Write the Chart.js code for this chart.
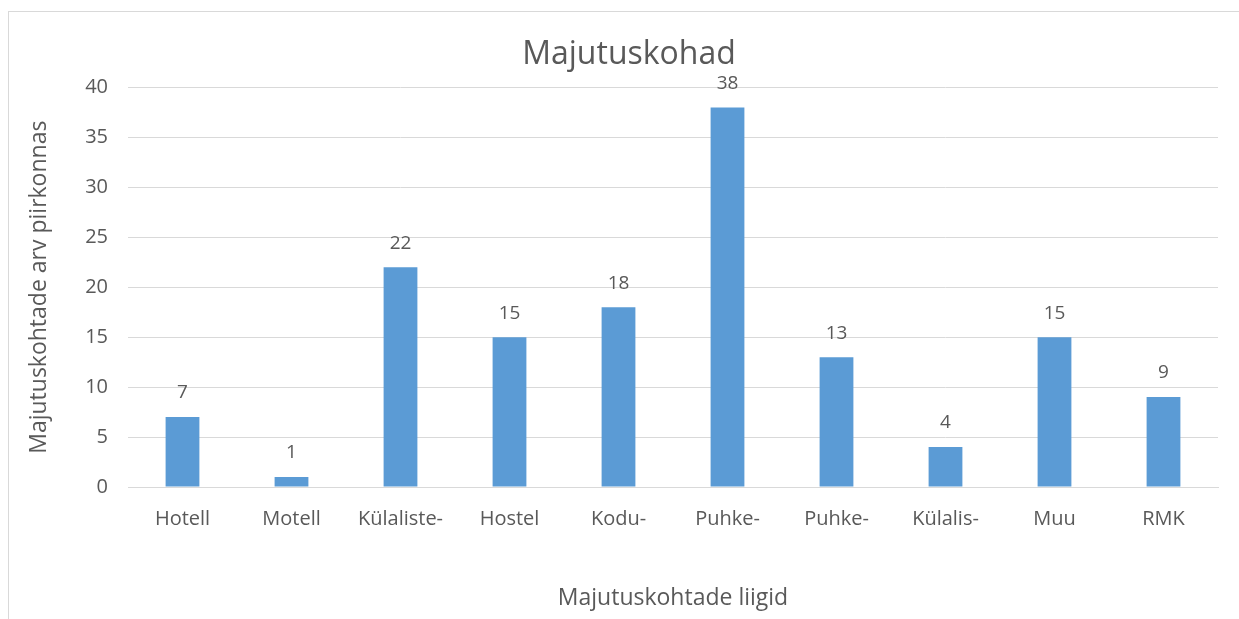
<!DOCTYPE html>
<html>
<head>
<meta charset="utf-8">
<script src="https://cdn.jsdelivr.net/npm/chart.js@4/dist/chart.umd.min.js"></script>
<style>
  html, body { margin: 0; padding: 0; background: #fff; overflow: hidden; }
  #frame { position: absolute; left: 8px; top: 11px; width: 1260px; height: 640px; border: 1px solid #d9d9d9; }
  #wrap { position: absolute; left: 0; top: 0; width: 1239px; height: 619px; }
</style>
</head>
<body>
<div id="frame"></div>
<div id="wrap"><canvas id="chart"></canvas></div>
<script>
// Chart data
const categories = ['Hotell', 'Motell', 'Külaliste-', 'Hostel', 'Kodu-', 'Puhke-', 'Puhke-', 'Külalis-', 'Muu', 'RMK'];
const counts = [7, 1, 22, 15, 18, 38, 13, 4, 15, 9];
const yTicks = [0, 5, 10, 15, 20, 25, 30, 35, 40];

const textColor = '#595959';
const fontFamily = '"Open Sans", "DejaVu Sans", sans-serif';

// Value labels above each bar
const barLabels = {
  id: 'barLabels',
  afterDatasetsDraw(chart) {
    const ctx = chart.ctx;
    const meta = chart.getDatasetMeta(0);
    ctx.save();
    ctx.fillStyle = textColor;
    ctx.font = '19px ' + fontFamily;
    ctx.textAlign = 'center';
    ctx.textBaseline = 'middle';
    meta.data.forEach((bar, i) => {
      ctx.fillText(String(counts[i]), bar.x, bar.y - 24);
    });
    ctx.restore();
  }
};

new Chart(document.getElementById('chart'), {
  type: 'bar',
  data: {
    labels: categories,
    datasets: [{
      data: counts,
      backgroundColor: '#5b9bd5',
      borderWidth: 0,
      categoryPercentage: 1,
      barPercentage: 0.31
    }]
  },
  options: {
    responsive: true,
    maintainAspectRatio: false,
    animation: false,
    // left padding shifts the title centre to match the reference
    layout: { padding: { left: 40, right: 21, top: 36, bottom: 0 } },
    plugins: {
      legend: { display: false },
      tooltip: { enabled: false },
      title: {
        display: true,
        text: 'Majutuskohad',
        color: textColor,
        font: { family: fontFamily, size: 32, weight: 'normal' },
        padding: { top: 0, bottom: 13 }
      }
    },
    scales: {
      x: {
        grid: { display: false, drawTicks: false },
        border: { color: '#d9d9d9', width: 1 },
        ticks: { color: textColor, font: { family: fontFamily, size: 20 }, padding: 20, maxRotation: 0, autoSkip: false },
        title: {
          display: true,
          text: 'Majutuskohtade liigid',
          color: textColor,
          font: { family: fontFamily, size: 23 },
          padding: { top: 0, bottom: 7 }
        },
        afterFit(scale) { scale.height = 132; }
      },
      y: {
        min: 0,
        max: 40,
        afterBuildTicks(scale) { scale.ticks = yTicks.map(v => ({ value: v })); },
        grid: { color: '#d9d9d9', lineWidth: 1, drawTicks: false },
        border: { display: false },
        ticks: { color: textColor, font: { family: fontFamily, size: 20 }, padding: 20 },
        title: {
          display: true,
          text: 'Majutuskohtade arv piirkonnas',
          color: textColor,
          font: { family: fontFamily, size: 23 },
          padding: { top: -14, bottom: 0 }
        },
        afterFit(scale) { scale.width = 88; }
      }
    }
  },
  plugins: [barLabels]
});
</script>
</body>
</html>
